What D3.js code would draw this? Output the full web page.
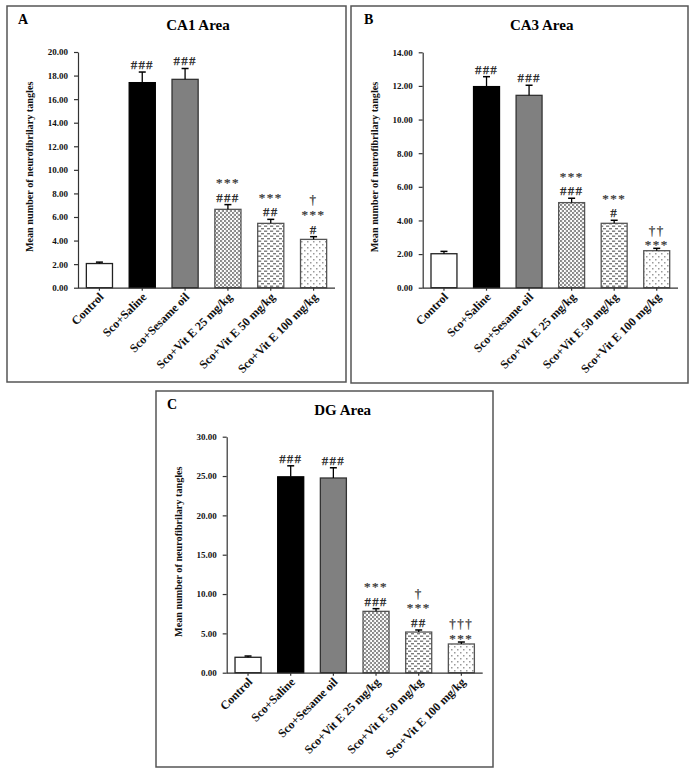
<!DOCTYPE html>
<html><head><meta charset="utf-8">
<script src="https://cdn.jsdelivr.net/npm/d3@7"></script>
<style>body{margin:0;background:#fff}svg{display:block}</style>
</head><body>
<script>
const categories = ["Control","Sco+Saline","Sco+Sesame oil","Sco+Vit E 25 mg/kg","Sco+Vit E 50 mg/kg","Sco+Vit E 100 mg/kg"];
const ca1Means = [2.05, 17.4, 17.68, 6.65, 5.46, 4.1];
const ca1Err   = [0.12, 0.9, 0.92, 0.4, 0.34, 0.23];
const ca3Means = [2.02, 11.96, 11.44, 5.06, 3.83, 2.2];
const ca3Err   = [0.14, 0.59, 0.6, 0.26, 0.18, 0.14];
const dgMeans  = [1.96, 24.9, 24.75, 7.8, 5.17, 3.65];
const dgErr    = [0.16, 1.4, 1.3, 0.34, 0.26, 0.25];
const ca1Ticks = [0,2,4,6,8,10,12,14,16,18,20];
const ca3Ticks = [0,2,4,6,8,10,12,14];
const dgTicks  = [0,5,10,15,20,25,30];
const ca1Marks = [[],["###"],["###"],["###","***"],["##","***"],["#","***","†"]];
const ca3Marks = [[],["###"],["###"],["###","***"],["#","***"],["***","††"]];
const dgMarks  = [[],["###"],["###"],["###","***"],["##","***","†"],["***","†††"]];
const yLabel = "Mean number of neurofibrilary tangles";

const svg = d3.select("body").append("svg").attr("width",696).attr("height",772);
const defs = svg.append("defs");
const p1 = defs.append("pattern").attr("id","pChk").attr("patternUnits","userSpaceOnUse").attr("width",4).attr("height",4);
p1.append("rect").attr("width",4).attr("height",4).attr("fill","#fff");
p1.append("rect").attr("x",0).attr("y",0).attr("width",2).attr("height",2).attr("fill","#8a8a8a");
p1.append("rect").attr("x",2).attr("y",2).attr("width",2).attr("height",2).attr("fill","#8a8a8a");
p1.append("rect").attr("x",1.5).attr("y",0).attr("width",1).attr("height",4).attr("fill","#b0b0b0").attr("opacity",0.5);
const p2 = defs.append("pattern").attr("id","pDash").attr("patternUnits","userSpaceOnUse").attr("width",6).attr("height",5);
p2.append("rect").attr("width",6).attr("height",5).attr("fill","#fff");
p2.append("rect").attr("x",0).attr("y",0.5).attr("width",3.2).attr("height",1.4).attr("fill","#7a7a7a");
p2.append("rect").attr("x",3).attr("y",3).attr("width",3.2).attr("height",1.4).attr("fill","#7a7a7a");
const p3 = defs.append("pattern").attr("id","pDot").attr("patternUnits","userSpaceOnUse").attr("width",6).attr("height",6);
p3.append("rect").attr("width",6).attr("height",6).attr("fill","#fff");
p3.append("rect").attr("x",1).attr("y",1).attr("width",1.5).attr("height",1.5).attr("fill","#9a9a9a");
p3.append("rect").attr("x",4).attr("y",4).attr("width",1.5).attr("height",1.5).attr("fill","#9a9a9a");

const fills = ["#ffffff","#000000","#808080","url(#pChk)","url(#pDash)","url(#pDot)"];
const strokes = ["#222","#000","#333","#555","#555","#555"];
const FONT = "'Liberation Serif','Times New Roman',serif";
const MFS = 13; // annotation font size
const LINE = MFS * 1.11; // line box height

const panels = [
  {letter:"A", title:"CA1 Area", box:[7,6,346,382], titleX:198, letterX:18, x0:78, x1:335, y0:287.7, yTop:52, max:20, ticks:ca1Ticks, means:ca1Means, err:ca1Err, marks:ca1Marks},
  {letter:"B", title:"CA3 Area", box:[351,6,688,383], titleX:541.7, letterX:364, x0:422.7, x1:678, y0:287.7, yTop:52.3, max:14, ticks:ca3Ticks, means:ca3Means, err:ca3Err, marks:ca3Marks},
  {letter:"C", title:"DG Area", box:[156,391,493,767], titleX:342.7, letterX:167, x0:226.7, x1:482.7, y0:672.7, yTop:436.7, max:30, ticks:dgTicks, means:dgMeans, err:dgErr, marks:dgMarks}
];

panels.forEach(p => {
  const [bx0,by0,bx1,by1] = p.box;
  const g = svg.append("g");
  g.append("rect").attr("x",bx0).attr("y",by0).attr("width",bx1-bx0).attr("height",by1-by0)
    .attr("fill","none").attr("stroke","#555").attr("stroke-width",1.5);
  g.append("text").attr("x",p.letterX).attr("y",by0+18).text(p.letter)
    .attr("font-family",FONT).attr("font-weight","bold").attr("font-size",14);
  g.append("text").attr("x",p.titleX).attr("y",by0+23.5).attr("text-anchor","middle").text(p.title)
    .attr("font-family",FONT).attr("font-weight","bold").attr("font-size",15);

  const x = d3.scaleBand().domain(categories).range([p.x0,p.x1]).paddingInner(0.39).paddingOuter(0.195);
  const y = d3.scaleLinear().domain([0,p.max]).range([p.y0,p.yTop]);

  categories.forEach((c,i) => {
    const v = p.means[i], e = p.err[i];
    const bx = x(c), bw = x.bandwidth(), cxm = bx + bw/2;
    g.append("rect").attr("x",bx).attr("y",y(v)).attr("width",bw).attr("height",y(0)-y(v))
      .attr("fill",fills[i]).attr("stroke",strokes[i]).attr("stroke-width",1.3);
    const et = y(v+e);
    g.append("line").attr("x1",cxm).attr("x2",cxm).attr("y1",y(v)).attr("y2",et).attr("stroke","#000").attr("stroke-width",1.3);
    g.append("line").attr("x1",cxm-3.5).attr("x2",cxm+3.5).attr("y1",et).attr("y2",et).attr("stroke","#000").attr("stroke-width",1.5);
    let baseline = et - 3;
    p.marks[i].forEach((m, k) => {
      const ch = m[0];
      if (k === 0 && ch === "*") baseline = et + 1;
      const col = ch === "#" ? "#1a1a1a" : "#3a3a3a";
      g.append("text").attr("x",cxm).attr("y",baseline).attr("text-anchor","middle")
        .attr("font-family",FONT).attr("font-size",MFS).attr("fill",col)
        .attr("stroke",col).attr("stroke-width",0.25)
        .attr("letter-spacing", ch === "#" ? 1.2 : 1.5).text(m);
      baseline -= LINE + 0.3;
    });
  });

  const ya = g.append("g").attr("transform",`translate(${p.x0},0)`)
    .call(d3.axisLeft(y).tickValues(p.ticks).tickFormat(d3.format(".2f")).tickSize(4).tickSizeOuter(0).tickPadding(6));
  ya.selectAll("text").attr("font-family",FONT).attr("font-weight","bold").attr("font-size",9).attr("fill","#111");
  ya.selectAll("line,path").attr("stroke","#333").attr("stroke-width",1.2);

  const xa = g.append("g").attr("transform",`translate(0,${p.y0})`)
    .call(d3.axisBottom(x).tickSize(3).tickSizeOuter(0));
  xa.select("path").attr("d",`M${p.x0},0.5H${p.x1}`);
  xa.selectAll("line,path").attr("stroke","#333").attr("stroke-width",1.2);
  xa.selectAll("text").attr("font-family",FONT).attr("font-weight","bold").attr("font-size",12).attr("fill","#111")
    .attr("text-anchor","end").attr("dy",0).attr("y",0)
    .attr("transform","translate(5,10) rotate(-45)");

  g.append("text").attr("transform",`translate(${p.x0-45},${(p.y0+p.yTop)/2-3}) rotate(-90)`)
    .attr("text-anchor","middle").text(yLabel)
    .attr("font-family",FONT).attr("font-weight","bold").attr("font-size",10.2).attr("fill","#111");
});
</script>
</body></html>
